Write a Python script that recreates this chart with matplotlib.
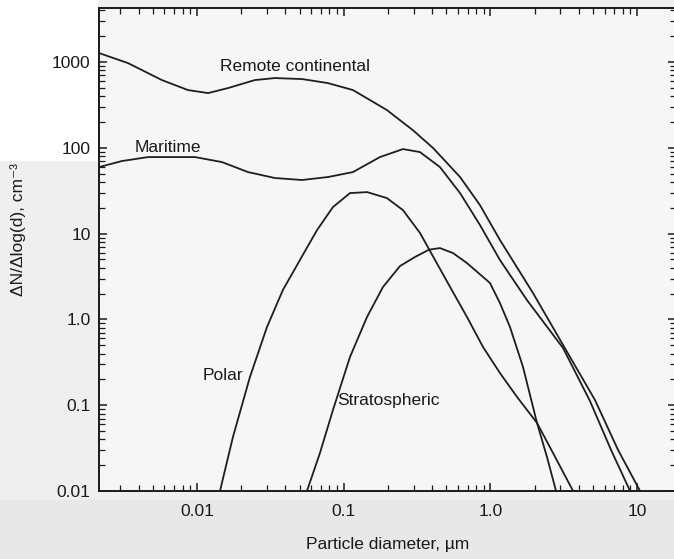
import matplotlib
matplotlib.use("Agg")
import matplotlib.pyplot as plt
from matplotlib.patches import Rectangle
from matplotlib.ticker import LogLocator, NullFormatter

plt.rcParams['font.family'] = ['Liberation Sans', 'DejaVu Sans']

# Aerosol number size distributions (particle diameter in um, dN/dlog d in cm^-3)
remote_d = [0.00215, 0.00339, 0.00577, 0.00868, 0.0119, 0.0163, 0.0248, 0.0340,
            0.0520, 0.0781, 0.1156, 0.151, 0.197, 0.296, 0.407, 0.621, 0.849, 1.162,
            1.951, 3.126, 5.16, 7.41, 10.47]
remote_n = [1274, 973, 617, 472, 435, 498, 617, 651,
            634, 569, 472, 361, 276, 161, 99.5, 45.7, 21.5, 8.42,
            2.03, 0.504, 0.115, 0.0301, 0.01]

maritime_d = [0.00215, 0.00308, 0.00464, 0.00969, 0.0148, 0.0223, 0.0340, 0.0520,
              0.0781, 0.1156, 0.1766, 0.2535, 0.331, 0.453, 0.621, 0.849, 1.162,
              1.775, 3.126, 4.77, 6.64, 8.95]
maritime_n = [59.7, 70.2, 78.1, 78.1, 68.3, 52.2, 44.5, 42.2,
              45.7, 52.2, 78.1, 96.8, 89.3, 59.7, 29.7, 12.6, 4.92,
              1.68, 0.464, 0.112, 0.0301, 0.01]

polar_d = [0.01436, 0.01758, 0.02296, 0.0300, 0.0385, 0.0503, 0.0658, 0.0845,
           0.1104, 0.1443, 0.197, 0.2535, 0.331, 0.381, 0.531, 0.692, 0.891,
           1.162, 1.518, 2.078, 2.672, 3.66]
polar_n = [0.01, 0.0425, 0.213, 0.815, 2.20, 4.92, 11.0, 20.4,
           29.7, 30.5, 26.0, 18.8, 10.2, 6.62, 2.39, 1.07, 0.476,
           0.237, 0.125, 0.0621, 0.0277, 0.01]

strat_d = [0.0562, 0.0689, 0.0845, 0.1104, 0.1443, 0.1853, 0.242, 0.306,
           0.381, 0.453, 0.556, 0.692, 0.993, 1.162, 1.360, 1.668, 2.078, 2.43, 2.80]
strat_n = [0.01, 0.0277, 0.0879, 0.365, 1.07, 2.39, 4.19, 5.34,
           6.5, 6.79, 5.94, 4.54, 2.66, 1.55, 0.815, 0.279, 0.0621, 0.0249, 0.01]

x_ticks = [0.01, 0.1, 1.0, 10]
x_tick_labels = ["0.01", "0.1", "1.0", "10"]
y_ticks = [0.01, 0.1, 1.0, 10, 100, 1000]
y_tick_labels = ["0.01", "0.1", "1.0", "10", "100", "1000"]

W, H = 674, 559
fig = plt.figure(figsize=(W / 100, H / 100), dpi=100)
fig.patch.set_facecolor('#efefef')
fig.patches.append(Rectangle((0, 1 - 160 / H), 97 / W, 160 / H,
                             transform=fig.transFigure, color='white', zorder=-10))
fig.patches.append(Rectangle((0, 0), 1, 1 - 500 / H,
                             transform=fig.transFigure, color='#e8e8e8', zorder=-10))

ax = fig.add_axes([99 / W, 1 - 491 / H, (676 - 99) / W, (491 - 8) / H])
ax.set_facecolor('#f6f6f6')
ax.set_xscale('log')
ax.set_yscale('log')
ax.set_xlim(0.00215, 18.4)
ax.set_ylim(0.01, 4270)

line_kw = dict(color='#1e1e1e', lw=1.3, solid_joinstyle='round')
ax.plot(remote_d, remote_n, **line_kw)
ax.plot(maritime_d, maritime_n, **line_kw)
ax.plot(polar_d, polar_n, **line_kw)
ax.plot(strat_d, strat_n, **line_kw)

lab_kw = dict(fontsize=12.5, color='#1a1a1a', ha='left', va='center')
ax.text(0.01436, 897, "Remote continental", **lab_kw)
ax.text(0.00378, 102, "Maritime", **lab_kw)
ax.text(0.0110, 0.225, "Polar", **lab_kw)
ax.text(0.090, 0.115, "Stratospheric", **lab_kw)

ax.set_xticks(x_ticks, x_tick_labels)
ax.set_yticks(y_ticks, y_tick_labels)
ax.xaxis.set_minor_locator(LogLocator(base=10, subs=range(2, 10), numticks=20))
ax.yaxis.set_minor_locator(LogLocator(base=10, subs=range(2, 10), numticks=20))
ax.xaxis.set_minor_formatter(NullFormatter())
ax.yaxis.set_minor_formatter(NullFormatter())
ax.tick_params(which='both', direction='in', top=True, right=True,
               colors='#1a1a1a', labelsize=12.5)
ax.tick_params(which='major', length=6, width=1.1)
ax.tick_params(which='minor', length=4, width=0.9)
ax.tick_params(axis='y', pad=6)
ax.tick_params(axis='x', pad=9)
for s in ax.spines.values():
    s.set_linewidth(1.4)
    s.set_color('#1a1a1a')

ax.set_xlabel("Particle diameter, \u00b5m", fontsize=12.5, color='#1a1a1a')
ax.xaxis.label.set_va('center')
ax.xaxis.set_label_coords((388 - 99) / (676 - 99), -(545 - 491) / (491 - 8))
ax.set_ylabel("\u0394N/\u0394log(d), cm\u207b\u00b3", fontsize=12.5, color='#1a1a1a')
ax.yaxis.label.set_va('center')
ax.yaxis.set_label_coords(-(99 - 18) / (676 - 99), (491 - 229) / (491 - 8))

fig.savefig("out.png", dpi=100, facecolor=fig.get_facecolor())
